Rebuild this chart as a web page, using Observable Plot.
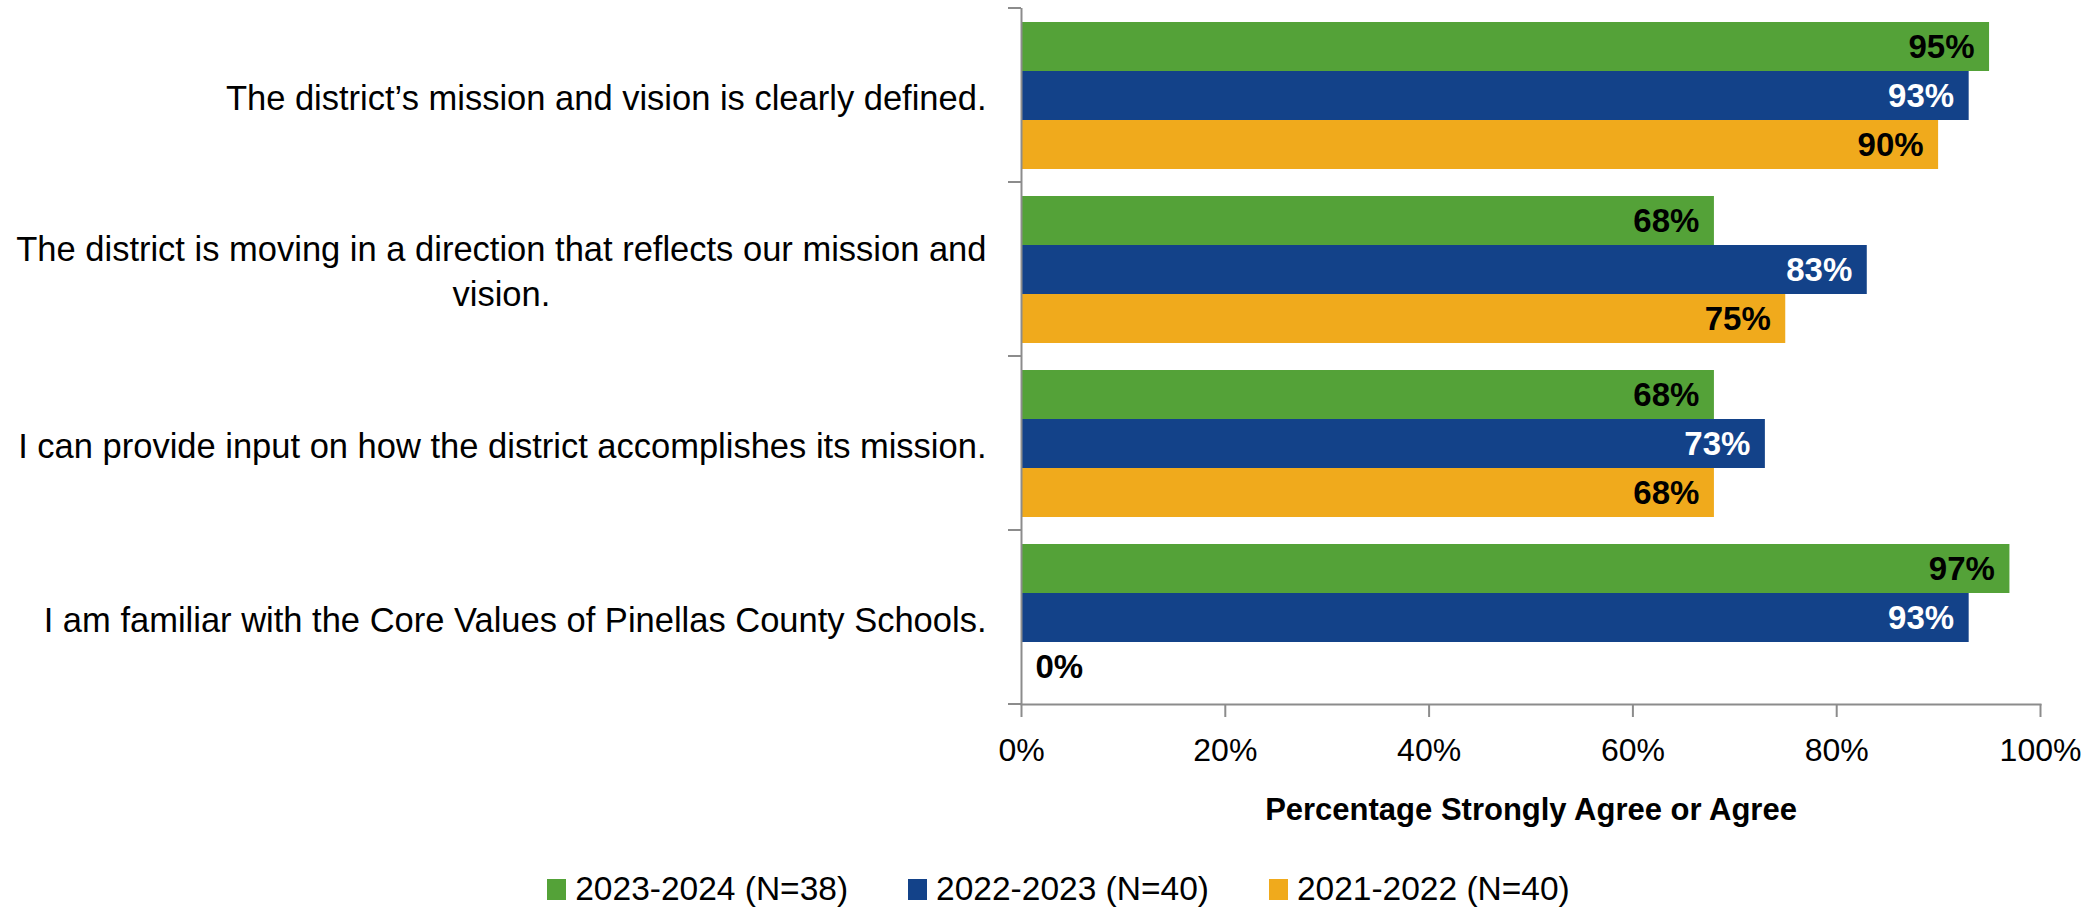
<!DOCTYPE html>
<html><head><meta charset="utf-8">
<script src="https://cdn.jsdelivr.net/npm/d3@7"></script>
<script src="https://cdn.jsdelivr.net/npm/@observablehq/plot@0.6"></script>
<style>
body{margin:0;background:#fff;font-family:"Liberation Sans",Arial,sans-serif;}
#legend{display:flex;justify-content:center;align-items:center;gap:60px;margin-top:41px;font-size:33.5px;line-height:36px;padding-left:20px;color:#000}
.item{display:flex;align-items:center;gap:9px}
.sw{width:19px;height:21px;display:inline-block}
</style></head><body>
<div id="chart"></div><div id="legend"></div>
<script>
const categories = [
  "The district\u2019s mission and vision is clearly defined.",
  "The district is moving in a direction that reflects our mission and\nvision.",
  "I can provide input on how the district accomplishes its mission.",
  "I am familiar with the Core Values of Pinellas County Schools."
];
const series = ["2023-2024 (N=38)", "2022-2023 (N=40)", "2021-2022 (N=40)"];
const values2023 = [0.95, 0.68, 0.68, 0.97];
const values2022 = [0.93, 0.83, 0.73, 0.93];
const values2021 = [0.90, 0.75, 0.68, 0.00];
const seriesColors = ["#54A238", "#134289", "#F0AA1C"];
const labelColors = ["#000000", "#FFFFFF", "#000000"];
const xTicks = [0, 0.2, 0.4, 0.6, 0.8, 1];
const xLabel = "Percentage Strongly Agree or Agree";

const seriesValues = [values2023, values2022, values2021];
const data = [];
categories.forEach((c, i) => series.forEach((s, j) => data.push({category: c, series: s, si: j, value: seriesValues[j][i]})));

const gray = "#8C8C8C";
const pct = d3.format(".0%");

const chart = Plot.plot({
  width: 2097,
  height: 830,
  marginLeft: 1021,
  marginRight: 57,
  marginTop: 8,
  marginBottom: 126,
  style: {fontFamily: "'Liberation Sans', Arial, sans-serif", fontSize: "32px", color: "#000", background: "#fff"},
  x: {domain: [0, 1]},
  y: {domain: series, paddingInner: 0, paddingOuter: 0.25, axis: null},
  fy: {domain: categories, padding: 0},
  color: {type: "identity"},
  marks: [
    Plot.barX(data, {x: "value", y: "series", fy: "category", fill: d => seriesColors[d.si]}),
    Plot.ruleX([0], {stroke: gray, strokeWidth: 2}),
    Plot.frame({anchor: "bottom", facetAnchor: "bottom", stroke: gray, strokeWidth: 2}),
    Plot.text(data.filter(d => d.value > 0), {
      x: "value", y: "series", fy: "category", text: d => pct(d.value),
      textAnchor: "end", dx: -15, fill: d => labelColors[d.si], fontWeight: "bold", fontSize: 33
    }),
    Plot.text(data.filter(d => d.value === 0), {
      x: "value", y: "series", fy: "category", text: d => pct(d.value),
      textAnchor: "start", dx: 14, fill: "#000", fontWeight: "bold", fontSize: 33
    }),
    Plot.axisX({ticks: xTicks, tickFormat: pct, tickSize: 13, tickPadding: 21, stroke: gray, strokeWidth: 2, fill: "#000", fontSize: 32, label: null}),
    Plot.axisFy({anchor: "left", tickSize: 0, tickPadding: 35, fontSize: 34.5, lineHeight: 1.3, label: null, fill: "#000"}),
    Plot.text([xLabel], {frameAnchor: "bottom", facetAnchor: "bottom", dy: 115, fontWeight: "bold", fontSize: 31, fill: "#000"})
  ]
});
document.getElementById("chart").appendChild(chart);

// center multi-line category labels relative to each other (right-aligned block)
d3.select(chart).selectAll('g[aria-label="fy-axis tick label"] text').each(function() {
  const tspans = Array.from(this.querySelectorAll("tspan"));
  if (tspans.length > 1) {
    const widths = tspans.map(t => t.getComputedTextLength());
    const maxW = Math.max(...widths);
    tspans.forEach((t, k) => t.setAttribute("x", -(maxW - widths[k]) / 2));
  }
});

// small category boundary ticks on the left of the vertical axis
const fyScale = chart.scale("fy");
const xScale = chart.scale("x");
if (fyScale && xScale) {
  const x0 = xScale.apply(0);
  const bounds = categories.map(c => fyScale.apply(c)).concat([fyScale.apply(categories[categories.length - 1]) + fyScale.bandwidth]);
  const g = d3.select(chart).append("g").attr("stroke", gray).attr("stroke-width", 2);
  bounds.forEach(y => g.append("line").attr("x1", x0 - 13).attr("x2", x0).attr("y1", y).attr("y2", y));
}

const legend = d3.select("#legend");
series.forEach((s, j) => {
  const item = legend.append("div").attr("class", "item");
  item.append("span").attr("class", "sw").style("background", seriesColors[j]);
  item.append("span").text(s);
});
</script>
</body></html>
